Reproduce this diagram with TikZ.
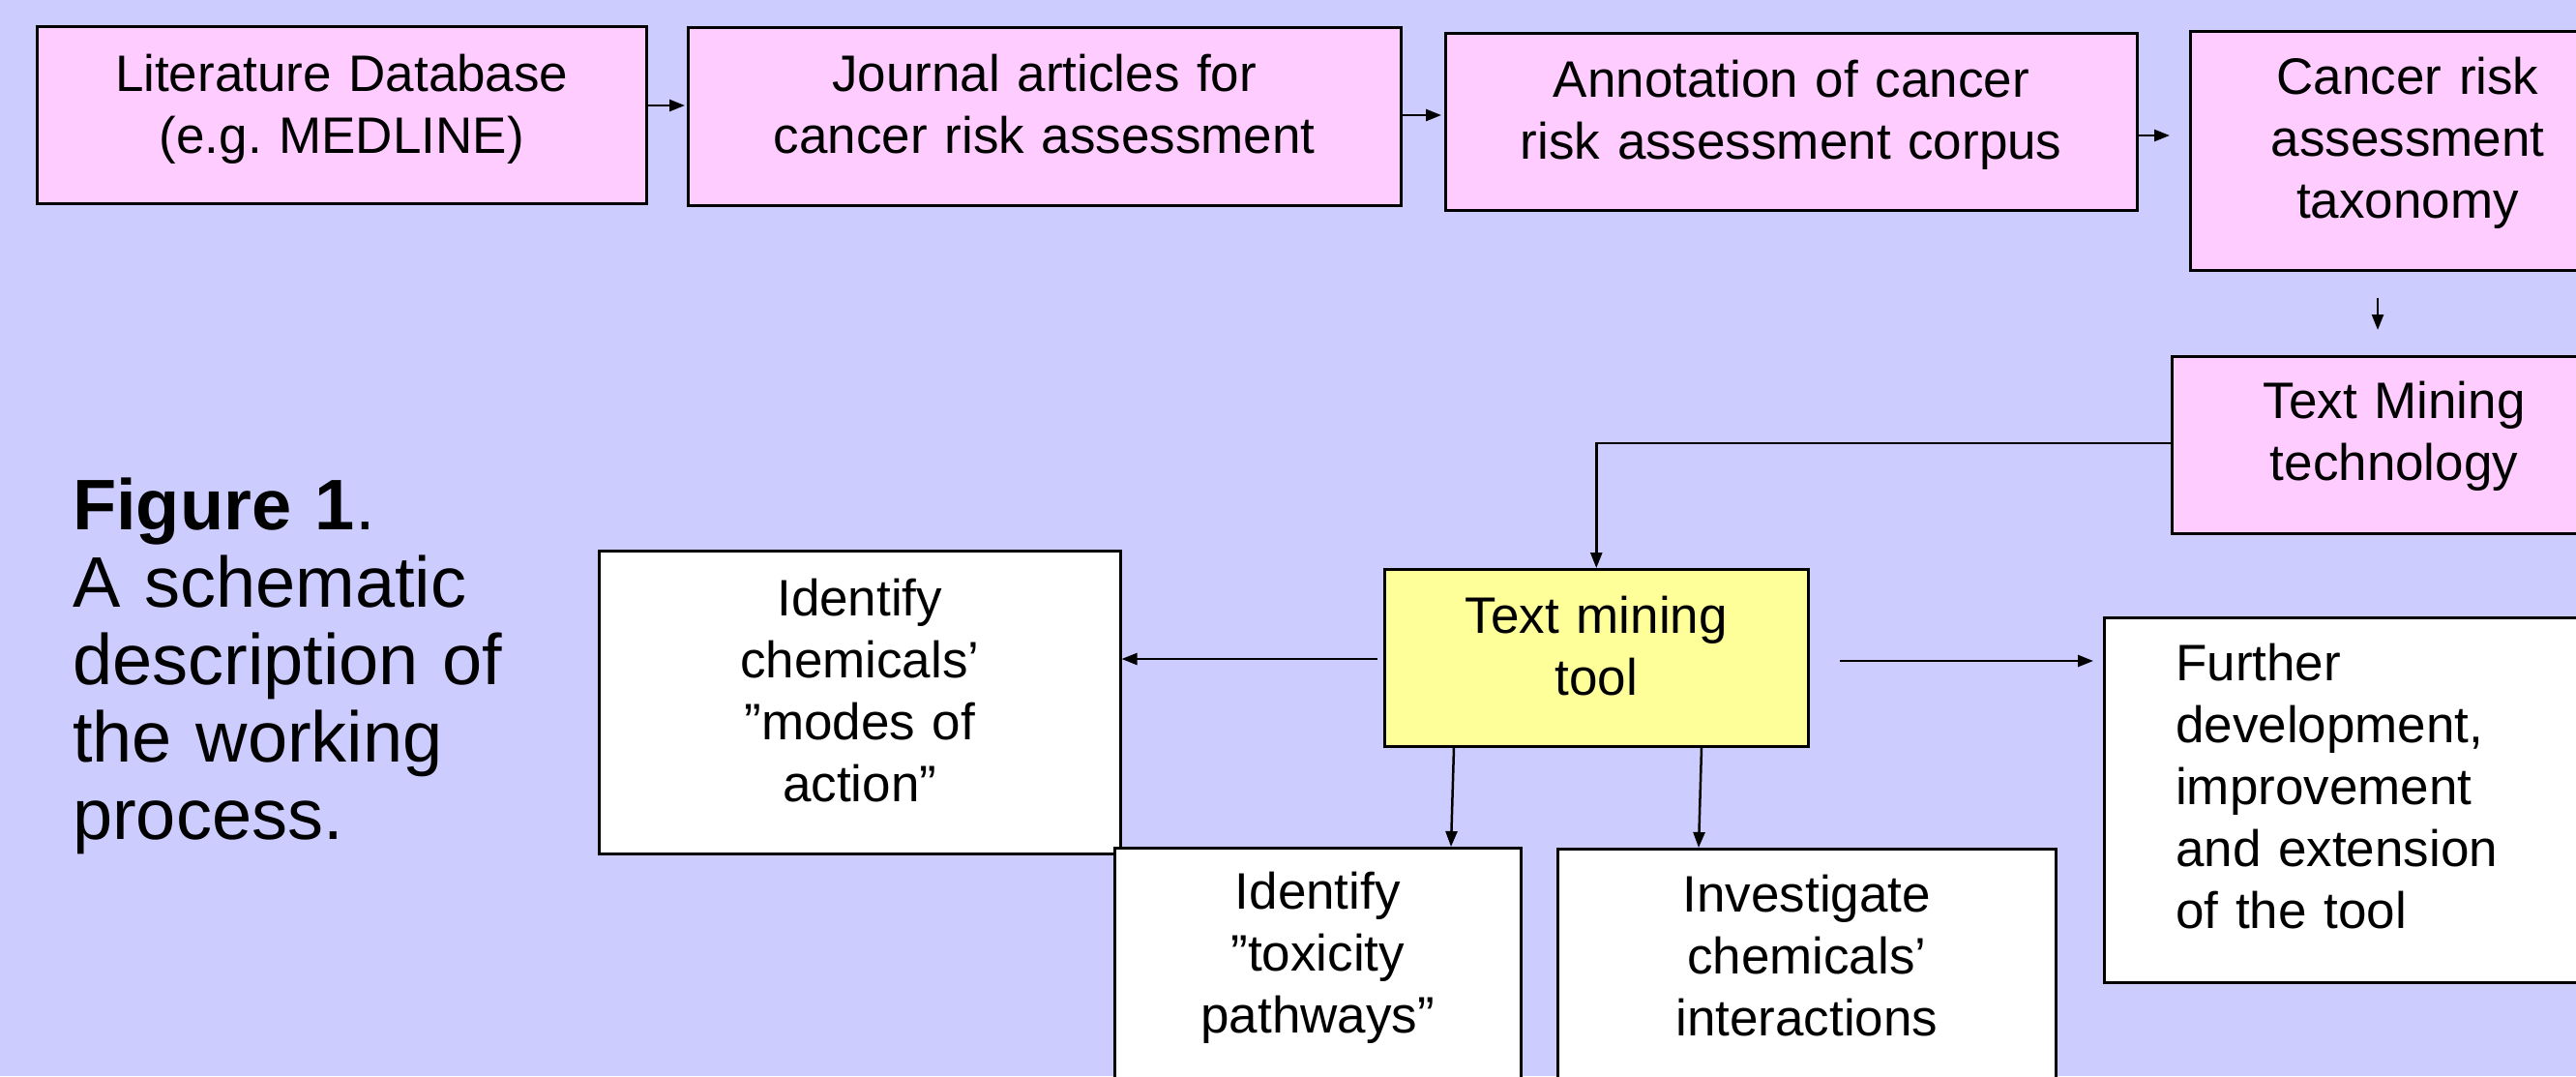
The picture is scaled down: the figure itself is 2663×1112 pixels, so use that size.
\documentclass[tikz,border=0pt]{standalone}
\usepackage{fontspec}
\setmainfont{Liberation Sans}
\usetikzlibrary{arrows.meta,calc}
\definecolor{bgc}{HTML}{CCCCFF}
\definecolor{pinkc}{HTML}{FFCCFF}
\definecolor{yelc}{HTML}{FFFF99}
\frenchspacing
\begin{document}
\begin{tikzpicture}[x=1pt,y=-1pt,
  box/.style={draw=black, line width=2.5pt, inner sep=0pt, anchor=north west},
  pbox/.style={box, fill=pinkc},
  wbox/.style={box, fill=white},
  ybox/.style={box, fill=yelc},
  txt/.style={font=\fontsize{53}{64}\selectfont, align=center, inner sep=0pt, anchor=base},
  arr/.style={line width=2.5pt, -{Triangle[length=16pt,width=12pt]}}]
\useasboundingbox (0,0) rectangle (2663,1112);
\clip (0,0) rectangle (2663,1112);
\fill[bgc] (0,0) rectangle (2663,1112);

% boxes
\node[pbox, minimum width=630pt, minimum height=183pt] (b1) at (37,26) {};
\node[pbox, minimum width=737pt, minimum height=184pt] (b2) at (710,27) {};
\node[pbox, minimum width=715pt, minimum height=183pt] (b3) at (1493,33) {};
\node[pbox, minimum width=452pt, minimum height=247pt] (b4) at (2263,31) {};
\node[pbox, minimum width=462pt, minimum height=183pt] (b5) at (2244,367) {};
\node[ybox, minimum width=438pt, minimum height=183pt] (ty) at (1430,587) {};
\node[wbox, minimum width=539pt, minimum height=313pt] (wl) at (618,568) {};
\node[wbox, minimum width=420pt, minimum height=300pt] (wb1) at (1151,875) {};
\node[wbox, minimum width=515pt, minimum height=300pt] (wb2) at (1609,876) {};
\node[wbox, minimum width=526pt, minimum height=377pt] (wr) at (2174,637) {};

% texts
\node[txt, text width=630pt] (t1) at ($(b1.north)+(0,68)$) {Literature Database\\(e.g. MEDLINE)};
\node[txt, text width=737pt] (t2) at ($(b2.north)+(0,67)$) {Journal articles for\\cancer risk assessment};
\node[txt, text width=715pt] (t3) at ($(b3.north)+(0,67)$) {Annotation of cancer\\risk assessment corpus};
\node[txt, text width=452pt] (t4) at (2489,97) {Cancer risk\\assessment\\taxonomy};
\node[txt, text width=462pt] (t5) at (2475,432) {Text Mining\\technology};
\node[txt, text width=438pt] (tty) at ($(ty.north)+(0,67)$) {Text mining\\tool};
\node[txt, text width=539pt] (twl) at ($(wl.north)+(0,68)$) {Identify\\chemicals’\\”modes of\\action”};
\node[txt, text width=420pt] (twb1) at ($(wb1.north)+(0,64)$) {Identify\\”toxicity\\pathways”};
\node[txt, text width=515pt] (twb2) at ($(wb2.north)+(0,66)$) {Investigate\\chemicals’\\interactions};
\node[txt, align=left, anchor=base west, text width=440pt] (twr) at (2249,703) {Further\\development,\\improvement\\and extension\\of the tool};

% caption
\node[anchor=base west, font=\fontsize{74}{80}\selectfont, align=left, text width=700pt, inner sep=0pt] (cap) at (75,547)
  {\textbf{Figure 1}.\\A schematic\\description of\\the working\\process.};

% helper coordinates
\coordinate (y1) at (0,109);
\coordinate (y2) at (0,119);
\coordinate (y3) at (0,140);
\coordinate (x4) at (2458,0);
\coordinate (y5) at (0,458);
\coordinate (y6) at (0,681);
\coordinate (y7) at (0,683);
\coordinate (x8a) at (1503,0);
\coordinate (x8b) at (1500,0);
\coordinate (x9a) at (1759,0);
\coordinate (x9b) at (1756,0);

% connectors
\draw[arr, shorten >=2pt] (b1.east |- y1) -- (b2.west |- y1);
\draw[arr, shorten >=3pt] (b2.east |- y2) -- (b3.west |- y2);
\draw[arr, shorten >=20pt] (b3.east |- y3) -- (b4.west |- y3);
\draw[arr, shorten <=27pt, shorten >=26pt] (b4.south -| x4) -- (b5.north -| x4);
\draw[arr] (b5.west |- y5) -| (ty.north);
\draw[arr, shorten <=6pt] (ty.west |- y6) -- (wl.east |- y6);
\draw[arr, shorten <=31pt, shorten >=10pt] (ty.east |- y7) -- (wr.west |- y7);
\draw[arr] (ty.south -| x8a) -- (wb1.north -| x8b);
\draw[arr] (ty.south -| x9a) -- (wb2.north -| x9b);
\end{tikzpicture}
\end{document}
